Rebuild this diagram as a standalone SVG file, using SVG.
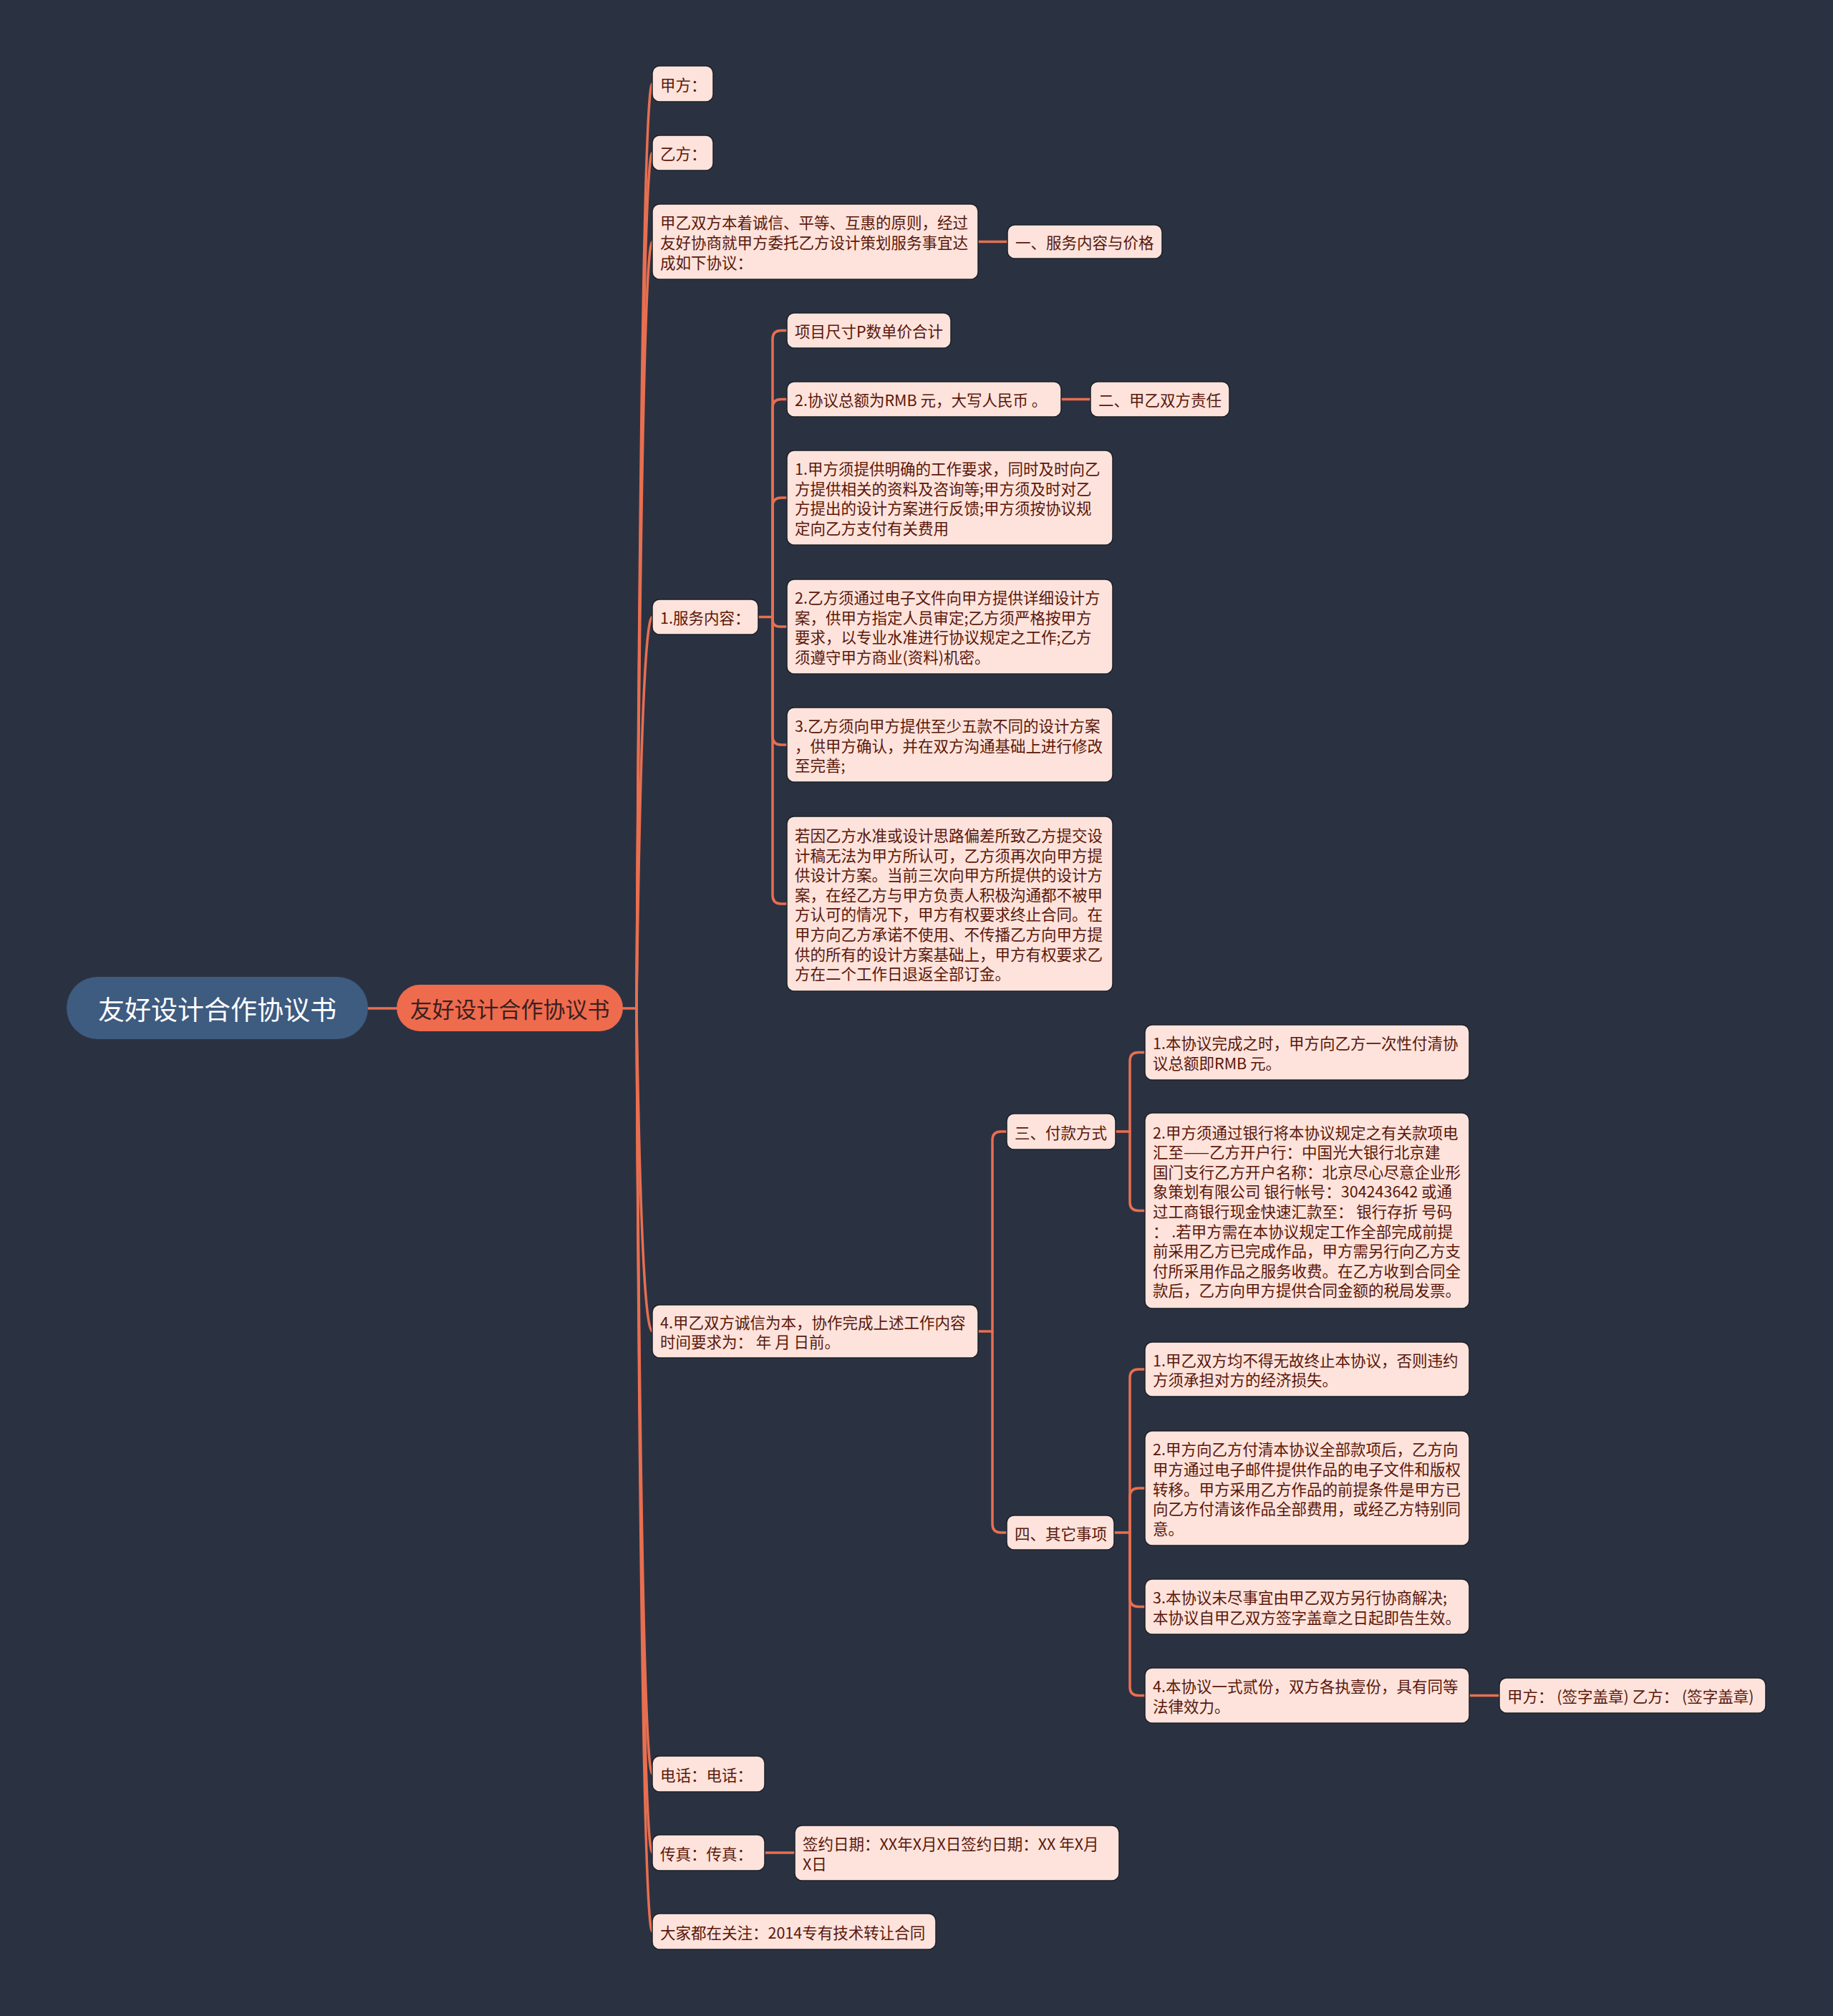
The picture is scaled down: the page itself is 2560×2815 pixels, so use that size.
<svg xmlns="http://www.w3.org/2000/svg" width="2560" height="2815" viewBox="0 0 2560 2815">
<style>
.n rect{fill:#fde3db;stroke:#1b2029;stroke-width:1.5}
.t{font-family:"Noto Sans CJK SC","Microsoft YaHei",sans-serif;font-size:21.5px;fill:#5a170b;dominant-baseline:central}
.c{fill:none;stroke:#e86f50;stroke-width:3.5;stroke-linecap:round}
</style>
<rect x="0" y="0" width="2560" height="2815" fill="#2a3242"/>
<g id="connectors">
<path class="c" d="M514 1408H554"/>
<path class="c" d="M870 1408H889"/>
<path class="c" d="M889 1408Q896 117 911 117"/>
<path class="c" d="M889 1408Q896 213.5 911 213.5"/>
<path class="c" d="M889 1408Q896 337.5 911 337.5"/>
<path class="c" d="M889 1408Q896 861.5 911 861.5"/>
<path class="c" d="M889 1408Q896 1859 911 1859"/>
<path class="c" d="M889 1408Q896 2477 911 2477"/>
<path class="c" d="M889 1408Q896 2587 911 2587"/>
<path class="c" d="M889 1408Q896 2697 911 2697"/>
<path class="c" d="M1366 337.5H1407"/>
<path class="c" d="M1059 861.5H1079"/>
<path class="c" d="M1079 861.5V473.5Q1079 461.5 1091 461.5H1099"/>
<path class="c" d="M1079 861.5V569.5Q1079 557.5 1091 557.5H1099"/>
<path class="c" d="M1079 861.5V707Q1079 695 1091 695H1099"/>
<path class="c" d="M1079 861.5V865Q1079 875 1089 875H1099"/>
<path class="c" d="M1079 861.5V1028Q1079 1040 1091 1040H1099"/>
<path class="c" d="M1079 861.5V1250Q1079 1262 1091 1262H1099"/>
<path class="c" d="M1482 557.5H1523"/>
<path class="c" d="M1366 1859H1386"/>
<path class="c" d="M1386 1859V1592Q1386 1580 1398 1580H1406"/>
<path class="c" d="M1386 1859V2128Q1386 2140 1398 2140H1406"/>
<path class="c" d="M1558 1580H1578"/>
<path class="c" d="M1578 1580V1481.5Q1578 1469.5 1590 1469.5H1599"/>
<path class="c" d="M1578 1580V1678.5Q1578 1690.5 1590 1690.5H1599"/>
<path class="c" d="M1556 2140H1578"/>
<path class="c" d="M1578 2140V1924Q1578 1912 1590 1912H1599"/>
<path class="c" d="M1578 2140V2090Q1578 2078 1590 2078H1599"/>
<path class="c" d="M1578 2140V2231.5Q1578 2243.5 1590 2243.5H1599"/>
<path class="c" d="M1578 2140V2355.5Q1578 2367.5 1590 2367.5H1599"/>
<path class="c" d="M2052 2367.5H2094"/>
<path class="c" d="M1068 2587H1110"/>
</g>
<g id="root">
<rect x="93" y="1364" width="421" height="87" rx="43.5" fill="#3e5b80"/>
<text x="303.5" y="1407.5" text-anchor="middle" style="font-family:'Noto Sans CJK SC',sans-serif;font-size:37px;fill:#ffffff;dominant-baseline:central">友好设计合作协议书</text>
</g>
<g id="main">
<rect x="554" y="1375" width="316" height="65" rx="32.5" fill="#ef6b4d"/>
<text x="712" y="1407.5" text-anchor="middle" style="font-family:'Noto Sans CJK SC',sans-serif;font-size:31px;fill:#3a2020;dominant-baseline:central">友好设计合作协议书</text>
</g>
<g id="n1" class="n"><rect x="911" y="92" width="85" height="50" rx="10"/><text class="t" x="922" y="117">甲方：</text></g>
<g id="n2" class="n"><rect x="911" y="189" width="85" height="49" rx="10"/><text class="t" x="922" y="213.5">乙方：</text></g>
<g id="n3" class="n"><rect x="911" y="285" width="455" height="105" rx="10"/>
<text class="t" x="922" y="309.9">甲乙双方本着诚信、平等、互惠的原则，经过</text>
<text class="t" x="922" y="337.5">友好协商就甲方委托乙方设计策划服务事宜达</text>
<text class="t" x="922" y="365.1">成如下协议：</text></g>
<g id="n3c" class="n"><rect x="1407" y="314" width="216" height="47" rx="10"/><text class="t" x="1418" y="337.5">一、服务内容与价格</text></g>
<g id="n4" class="n"><rect x="911" y="837" width="148" height="49" rx="10"/><text class="t" x="922" y="861.5">1.服务内容：</text></g>
<g id="n4a" class="n"><rect x="1099" y="437" width="229" height="49" rx="10"/><text class="t" x="1110" y="461.5">项目尺寸P数单价合计</text></g>
<g id="n4b" class="n"><rect x="1099" y="533" width="383" height="49" rx="10"/><text class="t" x="1110" y="557.5">2.协议总额为RMB 元，大写人民币 。</text></g>
<g id="n4bc" class="n"><rect x="1523" y="533" width="194" height="49" rx="10"/><text class="t" x="1534" y="557.5">二、甲乙双方责任</text></g>
<g id="n4c" class="n"><rect x="1099" y="629" width="455" height="132" rx="10"/>
<text class="t" x="1110" y="653.6">1.甲方须提供明确的工作要求，同时及时向乙</text>
<text class="t" x="1110" y="681.2">方提供相关的资料及咨询等;甲方须及时对乙</text>
<text class="t" x="1110" y="708.8">方提出的设计方案进行反馈;甲方须按协议规</text>
<text class="t" x="1110" y="736.4">定向乙方支付有关费用</text></g>
<g id="n4d" class="n"><rect x="1099" y="809" width="455" height="132" rx="10"/>
<text class="t" x="1110" y="833.6">2.乙方须通过电子文件向甲方提供详细设计方</text>
<text class="t" x="1110" y="861.2">案，供甲方指定人员审定;乙方须严格按甲方</text>
<text class="t" x="1110" y="888.8">要求，以专业水准进行协议规定之工作;乙方</text>
<text class="t" x="1110" y="916.4">须遵守甲方商业(资料)机密。</text></g>
<g id="n4e" class="n"><rect x="1099" y="988" width="455" height="104" rx="10"/>
<text class="t" x="1110" y="1012.4">3.乙方须向甲方提供至少五款不同的设计方案</text>
<text class="t" x="1110" y="1040">，供甲方确认，并在双方沟通基础上进行修改</text>
<text class="t" x="1110" y="1067.6">至完善;</text></g>
<g id="n4f" class="n"><rect x="1099" y="1140" width="455" height="244" rx="10"/>
<text class="t" x="1110" y="1165.4">若因乙方水准或设计思路偏差所致乙方提交设</text>
<text class="t" x="1110" y="1193">计稿无法为甲方所认可，乙方须再次向甲方提</text>
<text class="t" x="1110" y="1220.6">供设计方案。当前三次向甲方所提供的设计方</text>
<text class="t" x="1110" y="1248.2">案，在经乙方与甲方负责人积极沟通都不被甲</text>
<text class="t" x="1110" y="1275.8">方认可的情况下，甲方有权要求终止合同。在</text>
<text class="t" x="1110" y="1303.4">甲方向乙方承诺不使用、不传播乙方向甲方提</text>
<text class="t" x="1110" y="1331">供的所有的设计方案基础上，甲方有权要求乙</text>
<text class="t" x="1110" y="1358.6">方在二个工作日退返全部订金。</text></g>
<g id="n5" class="n"><rect x="911" y="1822" width="455" height="74" rx="10"/>
<text class="t" x="922" y="1845.2">4.甲乙双方诚信为本，协作完成上述工作内容</text>
<text class="t" x="922" y="1872.8">时间要求为：  年 月 日前。</text></g>
<g id="n5p" class="n"><rect x="1406" y="1555" width="152" height="50" rx="10"/><text class="t" x="1417" y="1580">三、付款方式</text></g>
<g id="n5p1" class="n"><rect x="1599" y="1431" width="453" height="77" rx="10"/>
<text class="t" x="1610" y="1455.7">1.本协议完成之时，甲方向乙方一次性付清协</text>
<text class="t" x="1610" y="1483.3">议总额即RMB 元。</text></g>
<g id="n5p2" class="n"><rect x="1599" y="1554" width="453" height="273" rx="10"/>
<text class="t" x="1610" y="1580.1">2.甲方须通过银行将本协议规定之有关款项电</text>
<text class="t" x="1610" y="1607.7">汇至——乙方开户行：中国光大银行北京建</text>
<text class="t" x="1610" y="1635.3">国门支行乙方开户名称：北京尽心尽意企业形</text>
<text class="t" x="1610" y="1662.9">象策划有限公司 银行帐号：304243642 或通</text>
<text class="t" x="1610" y="1690.5">过工商银行现金快速汇款至：  银行存折 号码</text>
<text class="t" x="1610" y="1718.1">：  .若甲方需在本协议规定工作全部完成前提</text>
<text class="t" x="1610" y="1745.7">前采用乙方已完成作品，甲方需另行向乙方支</text>
<text class="t" x="1610" y="1773.3">付所采用作品之服务收费。在乙方收到合同全</text>
<text class="t" x="1610" y="1800.9">款后，乙方向甲方提供合同金额的税局发票。</text></g>
<g id="n5q" class="n"><rect x="1406" y="2116" width="150" height="48" rx="10"/><text class="t" x="1417" y="2140">四、其它事项</text></g>
<g id="n5q1" class="n"><rect x="1599" y="1874" width="453" height="76" rx="10"/>
<text class="t" x="1610" y="1898.2">1.甲乙双方均不得无故终止本协议，否则违约</text>
<text class="t" x="1610" y="1925.8">方须承担对方的经济损失。</text></g>
<g id="n5q2" class="n"><rect x="1599" y="1998" width="453" height="160" rx="10"/>
<text class="t" x="1610" y="2022.8">2.甲方向乙方付清本协议全部款项后，乙方向</text>
<text class="t" x="1610" y="2050.4">甲方通过电子邮件提供作品的电子文件和版权</text>
<text class="t" x="1610" y="2078">转移。甲方采用乙方作品的前提条件是甲方已</text>
<text class="t" x="1610" y="2105.6">向乙方付清该作品全部费用，或经乙方特别同</text>
<text class="t" x="1610" y="2133.2">意。</text></g>
<g id="n5q3" class="n"><rect x="1599" y="2205" width="453" height="77" rx="10"/>
<text class="t" x="1610" y="2229.7">3.本协议未尽事宜由甲乙双方另行协商解决;</text>
<text class="t" x="1610" y="2257.3">本协议自甲乙双方签字盖章之日起即告生效。</text></g>
<g id="n5q4" class="n"><rect x="1599" y="2329" width="453" height="77" rx="10"/>
<text class="t" x="1610" y="2353.7">4.本协议一式贰份，双方各执壹份，具有同等</text>
<text class="t" x="1610" y="2381.3">法律效力。</text></g>
<g id="n5q4c" class="n"><rect x="2094" y="2343" width="372" height="49" rx="10"/><text class="t" x="2105" y="2367.5" xml:space="preserve">甲方： (签字盖章) 乙方： (签字盖章)</text></g>
<g id="n6" class="n"><rect x="911" y="2452" width="157" height="50" rx="10"/><text class="t" x="922" y="2477">电话：电话：</text></g>
<g id="n7" class="n"><rect x="911" y="2562" width="157" height="50" rx="10"/><text class="t" x="922" y="2587">传真：传真：</text></g>
<g id="n7c" class="n"><rect x="1110" y="2549" width="453" height="77" rx="10"/>
<text class="t" x="1121" y="2573.7">签约日期：XX年X月X日签约日期：XX 年X月</text>
<text class="t" x="1121" y="2601.3">X日</text></g>
<g id="n8" class="n"><rect x="911" y="2672" width="396" height="50" rx="10"/><text class="t" x="922" y="2697">大家都在关注：2014专有技术转让合同</text></g>
</svg>
